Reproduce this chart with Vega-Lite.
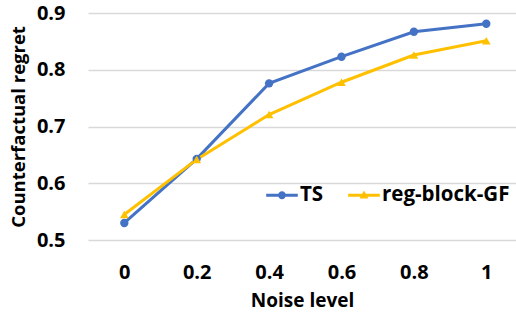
{
  "$schema": "https://vega.github.io/schema/vega-lite/v6.json",
  "width": 428,
  "height": 227,
  "autosize": {"type": "none"},
  "padding": {"left": 88, "top": 13, "right": 0, "bottom": 76},
  "background": "white",
  "config": {
    "view": {"stroke": null},
    "font": "Open Sans",
    "axis": {"labelFont": "Open Sans", "titleFont": "Open Sans", "labelFontWeight": "bold", "titleFontWeight": "bold", "labelColor": "#000000", "titleColor": "#000000"}
  },
  "data": {
    "values": [
      {"noise": "0", "series": "TS", "regret": 0.530},
      {"noise": "0.2", "series": "TS", "regret": 0.643},
      {"noise": "0.4", "series": "TS", "regret": 0.776},
      {"noise": "0.6", "series": "TS", "regret": 0.823},
      {"noise": "0.8", "series": "TS", "regret": 0.867},
      {"noise": "1", "series": "TS", "regret": 0.881},
      {"noise": "0", "series": "reg-block-GF", "regret": 0.545},
      {"noise": "0.2", "series": "reg-block-GF", "regret": 0.642},
      {"noise": "0.4", "series": "reg-block-GF", "regret": 0.721},
      {"noise": "0.6", "series": "reg-block-GF", "regret": 0.778},
      {"noise": "0.8", "series": "reg-block-GF", "regret": 0.826},
      {"noise": "1", "series": "reg-block-GF", "regret": 0.851}
    ]
  },
  "encoding": {
    "x": {
      "field": "noise", "type": "ordinal", "sort": null,
      "scale": {"type": "point", "padding": 0.456, "align": 0.55},
      "axis": {
        "title": "Noise level", "labelAngle": 0, "domain": false, "ticks": false, "grid": false,
        "labelFontSize": 20, "labelPadding": 32, "labelBaseline": "middle",
        "titleFontSize": 19, "titleBaseline": "middle", "titleY": 60
      }
    },
    "y": {
      "field": "regret", "type": "quantitative",
      "scale": {"domain": [0.5, 0.9], "nice": false, "zero": false},
      "axis": {
        "title": "Counterfactual regret", "values": [0.5, 0.6, 0.7, 0.8, 0.9], "format": ".1f",
        "domain": false, "ticks": false, "grid": true, "gridColor": "#d9d9d9", "gridWidth": 1.3,
        "labelFontSize": 20, "labelPadding": 23,
        "titleFontSize": 18.5, "titleBaseline": "middle", "titleX": -70, "titleY": 113.5, "titleAngle": -90
      }
    },
    "color": {
      "field": "series", "type": "nominal", "sort": ["TS", "reg-block-GF"],
      "scale": {"domain": ["TS", "reg-block-GF"], "range": ["#4472C4", "#FFC000"]},
      "legend": {
        "title": null, "orient": "none", "direction": "horizontal",
        "legendX": 178, "legendY": 166,
        "labelFontSize": 20.5, "labelFontWeight": "bold", "labelColor": "#000000", "labelFont": "Open Sans",
        "symbolSize": 1000, "columnPadding": 24, "labelOffset": 2,
        "encode": {
          "symbols": {
            "update": {
              "shape": {"signal": "datum.value === 'TS' ? 'M-1,-0.1 H1 V0.1 H-1 Z M0,-0.25 A0.25,0.25 0 1 1 0,0.25 A0.25,0.25 0 1 1 0,-0.25 Z' : 'M-1,-0.1 H1 V0.1 H-1 Z M0,-0.3 L0.28,0.2 L-0.28,0.2 Z'"},
              "fill": {"signal": "datum.value === 'TS' ? '#4472C4' : '#FFC000'"},
              "fillOpacity": {"value": 1},
              "strokeWidth": {"value": 0}
            }
          }
        }
      }
    }
  },
  "layer": [
    {"mark": {"type": "line", "strokeWidth": 3}},
    {
      "transform": [{"filter": "datum.series === 'TS'"}],
      "mark": {"type": "point", "filled": true, "opacity": 1, "size": 70, "shape": "circle"}
    },
    {
      "transform": [{"filter": "datum.series === 'reg-block-GF'"}],
      "mark": {"type": "point", "filled": true, "opacity": 1, "size": 75, "shape": "triangle-up"}
    }
  ]
}
